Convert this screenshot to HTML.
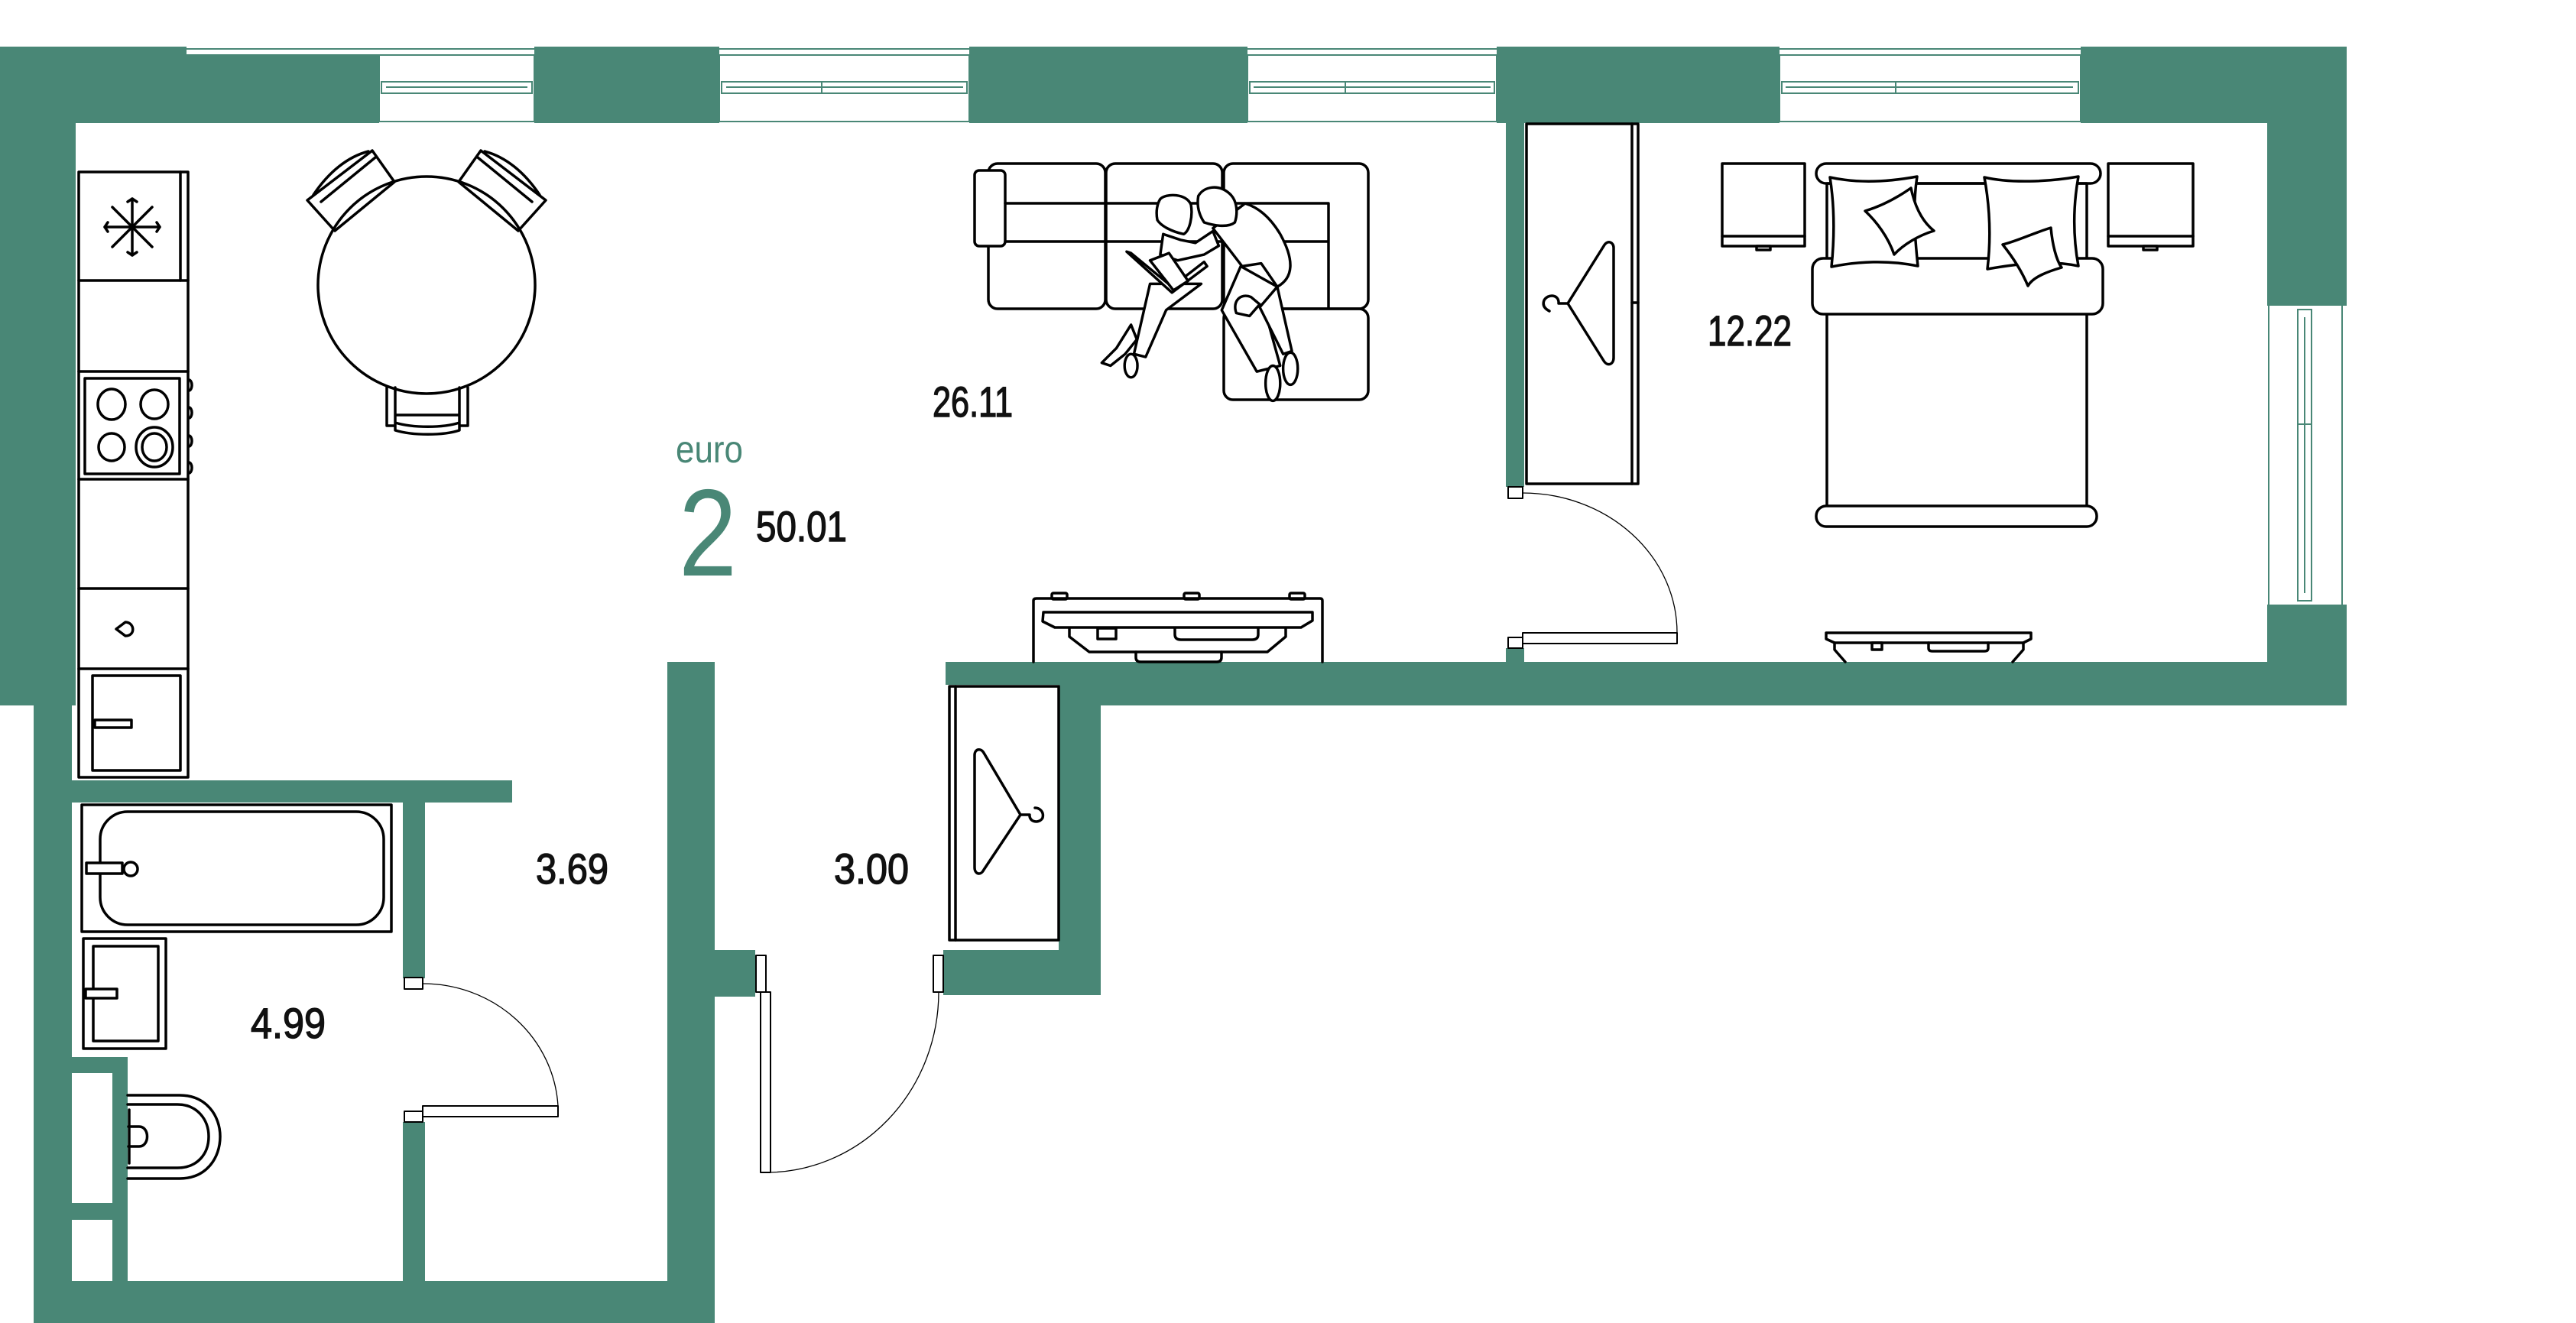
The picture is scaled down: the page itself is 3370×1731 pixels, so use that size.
<!DOCTYPE html>
<html><head><meta charset="utf-8"><style>
html,body{margin:0;padding:0;background:#fff;}
svg{display:block;}
.w{fill:#498776;}
.f{fill:none;stroke:#000;stroke-width:3.5;stroke-linejoin:round;stroke-linecap:round;}
.fw{fill:#fff;stroke:#000;stroke-width:3.5;stroke-linejoin:round;}
.t{fill:none;stroke:#000;stroke-width:1.3;}
.g{fill:none;stroke:#498776;stroke-width:2;}
.n{font-family:"Liberation Sans",sans-serif;font-size:56px;fill:#111;stroke:#111;stroke-width:1.4;}
</style></head><body>
<svg width="3370" height="1731" viewBox="0 0 3370 1731" xmlns="http://www.w3.org/2000/svg">
<rect width="3370" height="1731" fill="#fff"/>
<!-- top wall -->
<line x1="244" y1="64" x2="2722" y2="64" class="g"/>
<rect class="w" x="0" y="61" width="244" height="100"/>
<rect class="w" x="244" y="71" width="252" height="90"/>
<rect class="w" x="699" y="61" width="242" height="100"/>
<rect class="w" x="1268" y="61" width="364" height="100"/>
<rect class="w" x="1958" y="61" width="370" height="100"/>
<rect class="w" x="2722" y="61" width="348" height="100"/>
<!-- windows top -->
<g class="g">
<rect x="496" y="72" width="203" height="87"/>
<rect x="499" y="107" width="197" height="15"/><line x1="505" y1="114" x2="690" y2="114"/>
<rect x="941" y="72" width="327" height="87"/>
<rect x="944" y="107" width="321" height="15"/><line x1="1075" y1="107" x2="1075" y2="122"/><line x1="950" y1="114" x2="1260" y2="114"/>
<rect x="1632" y="72" width="326" height="87"/>
<rect x="1635" y="107" width="320" height="15"/><line x1="1760" y1="107" x2="1760" y2="122"/><line x1="1640" y1="114" x2="1950" y2="114"/>
<rect x="2328" y="72" width="394" height="87"/>
<rect x="2331" y="107" width="388" height="15"/><line x1="2480" y1="107" x2="2480" y2="122"/><line x1="2336" y1="114" x2="2712" y2="114"/>
</g>
<!-- right wall -->
<rect class="w" x="2966" y="61" width="104" height="339"/>
<rect class="w" x="2966" y="791" width="104" height="132"/>
<g class="g">
<line x1="2968" y1="400" x2="2968" y2="791"/><line x1="3064" y1="400" x2="3064" y2="791"/>
<rect x="3006" y="405" width="18" height="381"/><line x1="3015" y1="415" x2="3015" y2="776"/><line x1="3006" y1="555" x2="3024" y2="555"/>
</g>
<!-- bedroom bottom wall & hall -->
<rect class="w" x="1440" y="866" width="1630" height="57"/>
<rect class="w" x="1237" y="866" width="203" height="30"/>
<rect class="w" x="1385" y="866" width="55" height="436"/>
<rect class="w" x="1234" y="1243" width="151" height="59"/>
<!-- bedroom partition -->
<rect class="w" x="1970" y="161" width="24" height="476"/>
<rect class="w" x="1970" y="848" width="24" height="18"/>
<!-- left walls -->
<rect class="w" x="0" y="61" width="99" height="862"/>
<rect class="w" x="44" y="900" width="50" height="831"/>
<rect class="w" x="44" y="1676" width="891" height="55"/>
<rect class="w" x="94" y="1383" width="73" height="293"/>
<rect fill="#fff" x="94" y="1404" width="53" height="170"/>
<rect fill="#fff" x="94" y="1596" width="53" height="80"/>
<rect class="w" x="94" y="1021" width="576" height="29"/>
<rect class="w" x="527" y="1050" width="29" height="230"/>
<rect class="w" x="527" y="1468" width="29" height="208"/>
<rect class="w" x="873" y="866" width="62" height="810"/>
<rect class="w" x="935" y="1243" width="53" height="61"/>
<!-- doors -->
<rect class="fw" style="stroke-width:2" x="529" y="1279" width="24" height="15"/>
<rect class="fw" style="stroke-width:2" x="529" y="1454" width="24" height="14"/>
<rect class="fw" style="stroke-width:2" x="553" y="1447" width="177" height="14"/>
<path class="t" d="M730 1447 A177 170 0 0 0 553 1287"/>
<rect class="fw" style="stroke-width:2" x="989" y="1250" width="13" height="48"/>
<rect class="fw" style="stroke-width:2" x="1221" y="1250" width="13" height="48"/>
<rect class="fw" style="stroke-width:2" x="995" y="1298" width="13" height="236"/>
<path class="t" d="M1002 1534 A226 236 0 0 0 1228 1298"/>
<rect class="fw" style="stroke-width:2" x="1973" y="637" width="19" height="15"/>
<rect class="fw" style="stroke-width:2" x="1973" y="834" width="19" height="14"/>
<rect class="fw" style="stroke-width:2" x="1992" y="828" width="202" height="14"/>
<path class="t" d="M2194 828 A202 183 0 0 0 1992 645"/>
<!-- kitchen -->
<rect class="f" x="103" y="225" width="143" height="792"/>
<line class="f" x1="236" y1="225" x2="236" y2="367"/>
<g class="f"><line x1="103" y1="367" x2="246" y2="367"/><line x1="103" y1="486" x2="246" y2="486"/><line x1="103" y1="627" x2="246" y2="627"/><line x1="103" y1="770" x2="246" y2="770"/><line x1="103" y1="875" x2="246" y2="875"/></g>
<g class="f" stroke-width="3">
<line x1="173" y1="260" x2="173" y2="334"/><line x1="137" y1="297" x2="209" y2="297"/><line x1="147" y1="271" x2="199" y2="323"/><line x1="199" y1="271" x2="147" y2="323"/>
<path d="M167 264 L173 260 L179 264 M167 330 L173 334 L179 330 M141 291 L137 297 L141 303 M205 291 L209 297 L205 303"/>
</g>
<rect class="f" x="111" y="495" width="124" height="125"/>
<ellipse class="f" cx="146" cy="529" rx="18" ry="20"/><ellipse class="f" cx="202" cy="529" rx="18" ry="19"/>
<ellipse class="f" cx="146" cy="585" rx="17" ry="18"/><ellipse class="f" cx="202" cy="585" rx="24" ry="26"/><ellipse class="f" cx="202" cy="585" rx="16" ry="18" stroke-width="2.5"/>
<g class="f" stroke-width="2.5"><path d="M247 497 a4 7 0 0 1 0 14"/><path d="M247 533 a4 7 0 0 1 0 14"/><path d="M247 570 a4 7 0 0 1 0 14"/><path d="M247 605 a4 7 0 0 1 0 14"/></g>
<path class="f" stroke-width="3" d="M152 823 L164 814 C176 814 178 832 164 832 Z"/>
<rect class="f" x="121" y="884" width="115" height="124"/>
<rect class="f" x="124" y="942" width="48" height="10"/>
<!-- table -->
<circle class="f" cx="558" cy="373" r="142" stroke-width="3"/>
<g class="f" stroke-width="3">
<polygon points="402,262 487,197 516,238 438,302"/>
<path d="M410 255 C430 225 455 205 482 198 M420 264 L491 206"/>
<polygon points="714,262 629,197 600,238 678,302"/>
<path d="M706 255 C686 225 661 205 634 198 M696 264 L625 206"/>
<path d="M506 507 L506 557 L517 557 L517 507 M612 507 L612 557 L601 557 L601 507 M517 543 L601 543 M517 553 C540 560 580 560 601 553 L601 563 C580 570 540 570 517 563 Z"/>
</g>
<!-- sofa -->
<g class="f" stroke-width="3.2">
<rect x="1293" y="214" width="153" height="190" rx="12"/>
<rect x="1447" y="214" width="152" height="190" rx="12"/>
<rect x="1601" y="214" width="189" height="190" rx="12"/>
<rect x="1601" y="404" width="189" height="119" rx="12"/>
<rect x="1275" y="223" width="40" height="99" rx="6" fill="#fff"/>
<path d="M1315 266 L1738 266 L1738 402 M1315 316 L1738 316"/>
</g>
<g transform="translate(1250,180) scale(0.3827)">
<g fill="#fff" stroke="#000" stroke-width="9" stroke-linejoin="round" stroke-linecap="round">
<path d="M665 500 L610 740 L650 750 L720 590 L840 500 Z"/>
<path d="M600 640 L550 720 L500 770 L530 780 L580 740 L620 690 Z"/>
<ellipse cx="600" cy="780" rx="22" ry="40"/>
<path d="M710 330 L700 400 L760 420 L850 400 L900 370 L880 320 L820 360 L770 350 Z"/>
<polygon points="585,390 740,530 860,440 850,425 740,510 600,395"/>
<polygon points="665,420 730,395 795,490 745,522"/>
<path d="M700 210 C720 190 790 190 805 230 C812 270 800 320 780 330 C740 322 702 302 690 282 C684 252 690 225 700 210 Z"/>
<path d="M975 440 L910 590 L1030 800 L1110 780 L1060 600 L1100 510 Z"/>
<path d="M1040 580 L1100 510 L1150 730 L1120 740 Z"/>
<ellipse cx="1085" cy="840" rx="25" ry="60"/>
<ellipse cx="1145" cy="790" rx="25" ry="55"/>
<path d="M880 310 L980 440 L1045 430 L1100 510 C1155 480 1160 420 1110 330 C1080 280 1040 240 990 225 Z"/>
<path d="M960 600 C945 560 975 530 1010 545 L1040 570 L1005 610 Z"/>
<path d="M830 200 C850 165 900 160 935 190 C965 215 965 260 955 290 C930 310 880 300 850 290 C830 260 825 230 830 200 Z"/>
</g>
</g>
<!-- TV living -->
<g class="f" stroke-width="3">
<rect x="1376" y="776" width="20" height="8" rx="2"/><rect x="1549" y="776" width="20" height="8" rx="2"/><rect x="1687" y="776" width="20" height="8" rx="2"/>
<path d="M1352 866 L1352 786 Q1352 783 1356 783 L1727 783 Q1730 783 1730 786 L1730 866"/>
<path d="M1365 801 L1717 801 L1717 812 L1702 821 L1380 821 L1364 813 Z"/>
<path d="M1399 822 L1399 833 L1425 853 L1658 853 L1682 833 L1682 822"/>
<rect x="1436" y="822" width="24" height="14"/>
<path d="M1537 822 L1537 830 Q1537 837 1545 837 L1638 837 Q1646 837 1646 830 L1646 822"/>
<path d="M1486 853 L1486 860 Q1486 866 1492 866 L1592 866 Q1598 866 1598 860 L1598 853"/>
</g>
<!-- TV bedroom -->
<g class="f" stroke-width="3">
<path d="M2389 828 L2657 828 L2657 836 L2647 841 L2400 841 L2389 836 Z"/>
<path d="M2400 841 L2400 850 L2414 866 M2647 841 L2647 850 L2633 866"/>
<rect x="2449" y="841" width="13" height="9"/>
<path d="M2523 841 L2523 848 Q2523 852 2528 852 L2596 852 Q2601 852 2601 848 L2601 841"/>
</g>
<!-- wardrobes -->
<g class="f" stroke-width="3.2">
<rect x="1997" y="162" width="146" height="471"/>
<line x1="2135" y1="162" x2="2135" y2="633"/><line x1="2135" y1="396" x2="2143" y2="396"/>
<path d="M2051 397 L2098 322 C2103 313 2111 317 2111 324 L2111 468 C2111 477 2103 480 2098 472 Z M2051 397 L2039 397 C2040 385 2025 384 2020 393 C2017 401 2023 405 2027 407"/>
<rect x="1242" y="898" width="143" height="332"/>
<line x1="1250" y1="898" x2="1250" y2="1230"/>
<path d="M1335 1066 L1287 985 C1283 978 1275 980 1275 988 L1275 1135 C1275 1144 1283 1146 1287 1138 Z M1335 1066 L1347 1066 C1346 1076 1360 1078 1364 1070 C1366 1062 1360 1057 1354 1057"/>
</g>
<!-- bedroom furniture -->
<g class="f">
<rect x="2253" y="214" width="108" height="108"/><line x1="2253" y1="309" x2="2361" y2="309"/><rect x="2298" y="322" width="18" height="5"/>
<rect x="2758" y="214" width="111" height="108"/><line x1="2758" y1="309" x2="2869" y2="309"/><rect x="2804" y="322" width="18" height="5"/>
<path d="M2390 240 L2390 662 M2730 240 L2730 662"/>
<rect x="2376" y="214" width="372" height="26" rx="13" fill="#fff"/>
<line x1="2390" y1="240" x2="2730" y2="240"/>
<rect x="2371" y="338" width="380" height="73" rx="14" fill="#fff"/>
<rect x="2376" y="662" width="367" height="27" rx="13" fill="#fff"/>
<path d="M2394 232 C2430 240 2470 238 2508 231 C2502 270 2505 310 2509 348 C2470 340 2430 342 2396 349 C2400 310 2400 270 2394 232 Z" fill="#fff"/>
<path d="M2596 232 C2630 240 2680 238 2719 231 C2712 270 2712 310 2719 348 C2680 340 2640 345 2600 352 C2605 310 2603 270 2596 232 Z" fill="#fff"/>
<path d="M2440 276 C2460 270 2480 260 2500 246 C2505 270 2515 290 2530 302 C2510 308 2490 320 2478 333 C2470 310 2455 290 2440 276 Z" fill="#fff"/>
<path d="M2620 320 C2640 315 2660 305 2683 298 C2685 320 2690 340 2697 350 C2680 355 2660 362 2653 374 C2645 355 2632 335 2620 320 Z" fill="#fff"/>
</g>
<!-- bathroom -->
<g class="f">
<rect x="107" y="1053" width="405" height="166"/>
<rect x="131" y="1062" width="371" height="148" rx="36"/>
<rect x="113" y="1129" width="47" height="14" fill="#fff"/>
<circle cx="171" cy="1137" r="9" fill="#fff"/>
<rect x="109" y="1228" width="108" height="144"/>
<rect x="122" y="1238" width="85" height="124"/>
<rect x="112" y="1294" width="41" height="12" fill="#fff"/>
<path d="M167 1433 L235 1433 C270 1433 288 1460 288 1487 C288 1515 270 1542 235 1542 L167 1542"/>
<path d="M167 1445 L232 1445 C258 1445 273 1465 273 1487 C273 1510 258 1528 232 1528 L167 1528"/>
<path d="M168 1474 L182 1474 C196 1474 196 1500 182 1500 L168 1500"/>
<line x1="169" y1="1452" x2="169" y2="1522"/>
</g>
<!-- labels -->
<text class="n" x="1220" y="545" textLength="105" lengthAdjust="spacingAndGlyphs">26.11</text>
<text class="n" x="989" y="708" textLength="119" lengthAdjust="spacingAndGlyphs">50.01</text>
<text class="n" x="2234" y="452" textLength="110" lengthAdjust="spacingAndGlyphs">12.22</text>
<text class="n" x="701" y="1156" textLength="95" lengthAdjust="spacingAndGlyphs">3.69</text>
<text class="n" x="1091" y="1156" textLength="98" lengthAdjust="spacingAndGlyphs">3.00</text>
<text class="n" x="328" y="1358" textLength="98" lengthAdjust="spacingAndGlyphs">4.99</text>
<text x="884" y="605" font-family="Liberation Sans, sans-serif" font-size="50" fill="#498776" textLength="88" lengthAdjust="spacingAndGlyphs">euro</text>
<text x="888" y="753" font-family="Liberation Sans, sans-serif" font-size="162" fill="#498776" textLength="76" lengthAdjust="spacingAndGlyphs">2</text>
</svg>
</body></html>
